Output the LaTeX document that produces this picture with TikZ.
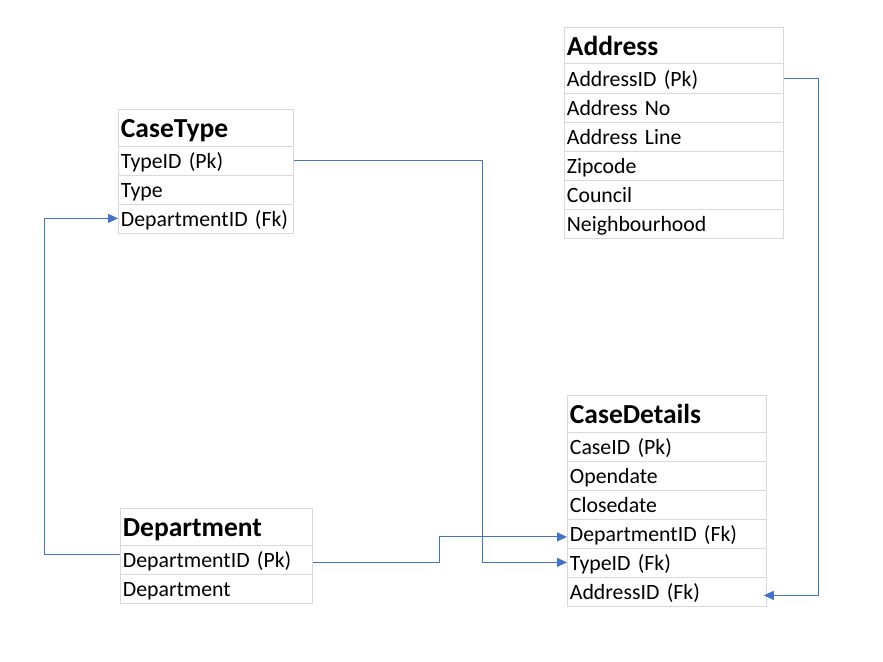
\documentclass[tikz,border=0pt]{standalone}
\usepackage{fontspec}
\setmainfont{Carlito}
\usetikzlibrary{arrows.meta}
\definecolor{grid}{HTML}{D9D9D9}
\definecolor{link}{HTML}{4472C4}
\begin{document}
\begin{tikzpicture}[x=1pt,y=-1pt,
  cell/.style={draw=grid, line width=0.8pt, anchor=north west, minimum width=#1, text width=#1-4pt,
    minimum height=29pt, inner xsep=2.5pt, inner ysep=0pt, align=left,
    text height=19pt, text depth=2pt,
    font=\fontsize{21.8}{24}\selectfont},
  head/.style={cell=#1, minimum height=36.5pt, text height=22pt, text depth=2.5pt,
    font=\fontsize{27.5}{30}\selectfont\bfseries},
  conn/.style={draw=link, line width=0.9pt, -{Triangle[length=10pt,width=9pt]}}]
\useasboundingbox[fill=white] (0,0) rectangle (883,661);
% CaseType
\node[head=174pt] (ct0) at (118,109) {CaseType};
\node[cell=174pt] (ct1) at (118,145.5) {TypeID (Pk)};
\node[cell=174pt] (ct2) at (118,174.5) {Type};
\node[cell=174pt] (ct3) at (118,203.5) {DepartmentID (Fk)};
% Address
\node[head=218pt] (ad0) at (564,27) {Address};
\node[cell=218pt] (ad1) at (564,63.5) {AddressID (Pk)};
\node[cell=218pt] (ad2) at (564,92.5) {Address No};
\node[cell=218pt] (ad3) at (564,121.5) {Address Line};
\node[cell=218pt] (ad4) at (564,150.5) {Zipcode};
\node[cell=218pt] (ad5) at (564,179.5) {Council};
\node[cell=218pt] (ad6) at (564,208.5) {Neighbourhood};
% CaseDetails
\node[head=198pt] (cd0) at (567,395) {CaseDetails};
\node[cell=198pt] (cd1) at (567,431.5) {CaseID (Pk)};
\node[cell=198pt] (cd2) at (567,460.5) {Opendate};
\node[cell=198pt] (cd3) at (567,489.5) {Closedate};
\node[cell=198pt] (cd4) at (567,518.5) {DepartmentID (Fk)};
\node[cell=198pt] (cd5) at (567,547.5) {TypeID (Fk)};
\node[cell=198pt] (cd6) at (567,576.5) {AddressID (Fk)};
% Department
\node[head=191pt] (dp0) at (120,508) {Department};
\node[cell=191pt] (dp1) at (120,544.5) {DepartmentID (Pk)};
\node[cell=191pt] (dp2) at (120,573.5) {Department};
% connectors
\coordinate (b1) at (482,0);
\coordinate (b2) at (44,0);
\coordinate (b3) at (439,0);
\coordinate (b4) at (818,0);
\draw[conn] (ct1.east) -| (b1 |- cd5.west) -- (cd5.west);
\draw[conn] ([yshift=5pt]dp1.west) -| (b2 |- ct3.west) -- (ct3.west);
\draw[conn] ([yshift=-3pt]dp1.east) -| ([yshift=-3.5pt]b3 |- cd4.west) -- ([yshift=-3.5pt]cd4.west);
\draw[conn] (ad1.east) -| ([yshift=-4pt]b4 |- cd6.east) -- ([xshift=-3pt,yshift=-4pt]cd6.east);
\end{tikzpicture}
\end{document}
